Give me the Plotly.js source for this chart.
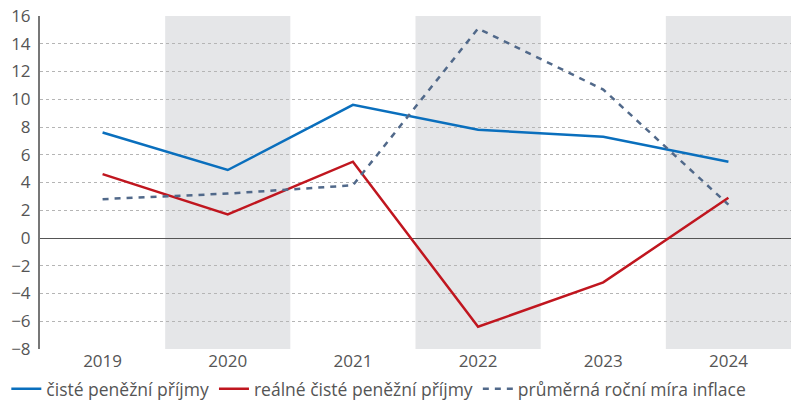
<!DOCTYPE html>
<html><head><meta charset="utf-8">
<script src="https://cdn.plot.ly/plotly-3.0.1.min.js"></script>
<style>html,body{margin:0;padding:0;background:#fff}#c{width:791px;height:401px}</style>
</head><body><div id="c"></div>
<script>
const years = ['2019','2020','2021','2022','2023','2024'];
const cisteP = [7.6, 4.9, 9.6, 7.8, 7.3, 5.5];
const realneP = [4.6, 1.7, 5.5, -6.4, -3.2, 2.9];
const inflace = [2.8, 3.2, 3.8, 15.1, 10.7, 2.4];
const shadedYears = ['2020','2022','2024'];

const font = {family: '"Open Sans", "Noto Sans", sans-serif', size: 17, color: '#555'};
const legFont = {family: '"Open Sans", "Noto Sans", sans-serif', size: 17.5, color: '#555'};
const traces = [
  {x: years, y: cisteP, name: 'čisté peněžní příjmy', type: 'scatter', mode: 'lines', line: {color: '#0a6fbd', width: 2.5}},
  {x: years, y: realneP, name: 'reálné čisté peněžní příjmy', type: 'scatter', mode: 'lines', line: {color: '#c0161f', width: 2.5}},
  {x: years, y: inflace, name: 'průměrná roční míra inflace', type: 'scatter', mode: 'lines', line: {color: '#51698a', width: 2.5, dash: '6px,6px'}}
];
const shapes = shadedYears.map(y => {
  const i = years.indexOf(y);
  return {type: 'rect', xref: 'x', yref: 'paper', x0: i - 0.5, x1: i + 0.5, y0: 0, y1: 1, fillcolor: '#e5e6e8', line: {width: 0}, layer: 'below'};
});
const layout = {
  width: 791, height: 401,
  margin: {l: 40, r: 0, t: 16, b: 52},
  paper_bgcolor: '#fff', plot_bgcolor: '#fff',
  font: font,
  showlegend: true,
  legend: {orientation: 'h', xref: 'container', yref: 'container', x: 0.008, xanchor: 'left', y: 0.03, yanchor: 'middle',
           font: legFont, tracegroupgap: 0, bgcolor: 'rgba(0,0,0,0)'},
  xaxis: {type: 'category', range: [-0.5, 5.5], showgrid: false, zeroline: false, ticks: '', tickfont: font, showline: false, fixedrange: true, automargin: false},
  yaxis: {range: [-8, 16], dtick: 2, tick0: 0, showgrid: true, gridcolor: '#b5b5b5', griddash: 'dot', gridwidth: 1, automargin: false,
          zeroline: true, zerolinecolor: '#555', zerolinewidth: 1, showline: true, linecolor: '#777', linewidth: 2,
          ticks: '', tickfont: font, ticklabelstandoff: 4},
  shapes: shapes
};
Plotly.newPlot('c', traces, layout, {displayModeBar: false, staticPlot: true});
</script></body></html>
